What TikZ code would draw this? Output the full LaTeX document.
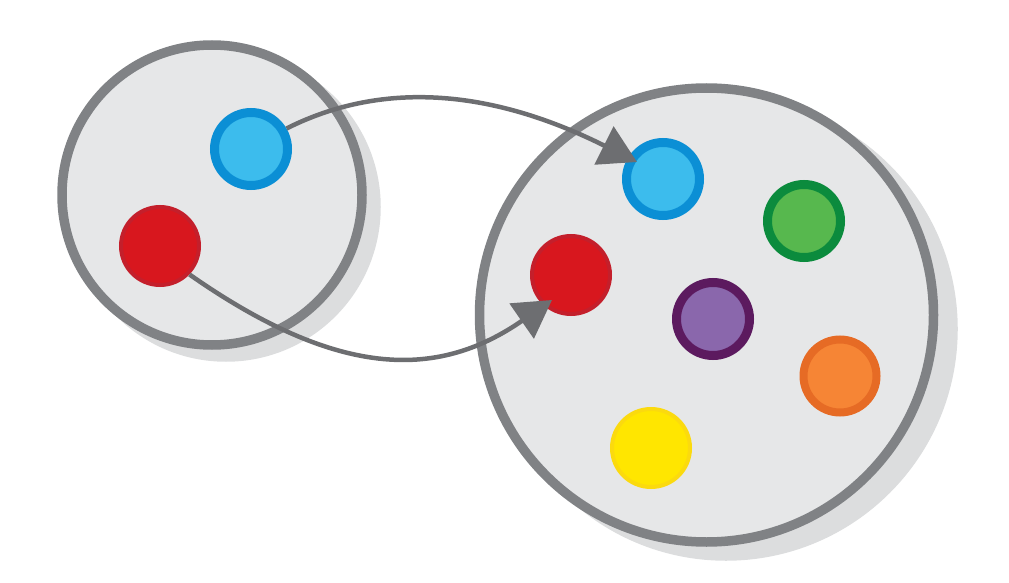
\documentclass[tikz,border=0pt]{standalone}
\usetikzlibrary{arrows.meta}
\definecolor{setfill}{HTML}{E6E7E8}
\definecolor{setline}{HTML}{808285}
\definecolor{setshadow}{HTML}{DCDDDE}
\definecolor{arrowgray}{HTML}{6D6E71}
\definecolor{blueline}{HTML}{0B8FD5}
\definecolor{bluefill}{HTML}{3CBCED}
\definecolor{redline}{HTML}{C41F2B}
\definecolor{redfill}{HTML}{D8171E}
\definecolor{greenline}{HTML}{0B8B3D}
\definecolor{greenfill}{HTML}{57B84E}
\definecolor{purpleline}{HTML}{5C1A5F}
\definecolor{purplefill}{HTML}{8A67AC}
\definecolor{orangeline}{HTML}{E66B25}
\definecolor{orangefill}{HTML}{F68535}
\definecolor{yellowline}{HTML}{FBDA0E}
\definecolor{yellowfill}{HTML}{FFE600}
\tikzset{
  setbox/.style={circle, inner sep=0pt, draw=setline, fill=setfill, line width=9.5pt},
  shadowbox/.style={circle, inner sep=0pt, fill=setshadow},
  ball/.style={circle, inner sep=0pt, minimum size=73pt, line width=9pt},
  flatball/.style={circle, inner sep=0pt, minimum size=78pt, line width=4pt},
  mapping/.style={draw=arrowgray, line width=4.5pt, -{Triangle[length=37pt,width=42pt]}}
}
\begin{document}
\begin{tikzpicture}[x=1pt,y=-1pt]
\useasboundingbox (0,0) rectangle (1009,583);
% shadows
\node[shadowbox, minimum size=309.5pt] (shL) at (226,207) {};
\node[shadowbox, minimum size=463.5pt] (shR) at (726,329) {};
% sets
\node[setbox, minimum size=300pt] (setL) at (212,195) {};
\node[setbox, minimum size=454pt] (setR) at (706.5,315) {};
% elements
\node[ball, draw=blueline, fill=bluefill] (bL) at (251,149) {};
\node[flatball, draw=redline, fill=redfill] (rL) at (160,246) {};
\node[ball, draw=blueline, fill=bluefill] (bR) at (663,179) {};
\node[ball, draw=greenline, fill=greenfill] (gR) at (804,221) {};
\node[flatball, draw=redline, fill=redfill] (rR) at (571,275) {};
\node[ball, draw=purpleline, fill=purplefill] (pR) at (713,319) {};
\node[ball, line width=8pt, draw=orangeline, fill=orangefill] (oR) at (840,376) {};
\node[flatball, draw=yellowline, fill=yellowfill] (yR) at (651,448) {};
% arrow tips
\coordinate (tipB) at (637,162);
\coordinate (tipR) at (552,300);
% mappings
\draw[mapping] (bL.30) .. controls (387,78) and (497,92) .. (tipB);
\draw[mapping] (rL.-44) .. controls (343,382) and (441,377) .. (tipR);
\end{tikzpicture}
\end{document}
